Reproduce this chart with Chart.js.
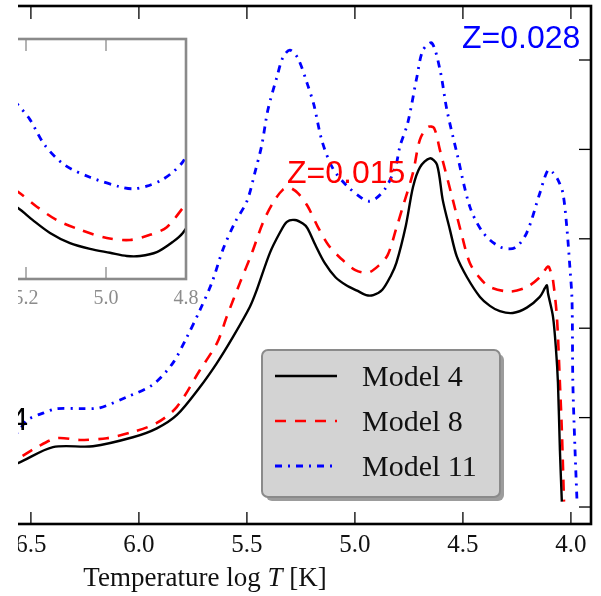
<!DOCTYPE html>
<html>
<head>
<meta charset="utf-8">
<script src="https://cdn.jsdelivr.net/npm/chart.js@4.4.1/dist/chart.umd.min.js"></script>
<style>
    body { margin: 0; background: #fff; }
    #frame { position: absolute; left: 18px; top: 0; width: 583px; height: 596px; overflow: hidden; }
    #mainChart { position: absolute; left: -218px; top: 0; }
    #insetChart { position: absolute; left: -30px; top: 30px; }
</style>
</head>
<body>
<div id="frame">
    <canvas id="mainChart" width="801" height="596"></canvas>
    <canvas id="insetChart" width="216" height="280"></canvas>
</div>
<script>
// log T grid and curve level for each model
const logT4 = [6.62, 6.56, 6.398, 6.213, 6.028, 5.917, 5.824, 5.718, 5.639, 5.565, 5.486, 5.454, 5.394, 5.347, 5.315, 5.278, 5.241, 5.22, 5.183, 5.14, 5.09, 5.04, 4.99, 4.948, 4.915, 4.873, 4.833, 4.808, 4.764, 4.731, 4.699, 4.653, 4.62, 4.593, 4.56, 4.528, 4.481, 4.421, 4.375, 4.329, 4.269, 4.204, 4.144, 4.12, 4.111, 4.106, 4.083, 4.069, 4.06, 4.051, 4.042];
const level4 = [1.45, 1.49, 1.67, 1.68, 1.78, 1.88, 2.03, 2.34, 2.61, 2.90, 3.24, 3.43, 3.84, 4.07, 4.19, 4.21, 4.17, 4.12, 3.93, 3.73, 3.57, 3.48, 3.42, 3.37, 3.37, 3.43, 3.59, 3.73, 4.15, 4.58, 4.80, 4.90, 4.83, 4.43, 4.10, 3.80, 3.57, 3.35, 3.25, 3.19, 3.17, 3.23, 3.35, 3.45, 3.48, 3.39, 3.13, 2.76, 2.39, 1.64, 1.06];

const logT8 = [6.62, 6.56, 6.472, 6.38, 6.273, 6.148, 6.028, 5.917, 5.824, 5.718, 5.639, 5.593, 5.532, 5.477, 5.426, 5.38, 5.333, 5.301, 5.264, 5.22, 5.173, 5.123, 5.065, 4.998, 4.94, 4.89, 4.848, 4.808, 4.778, 4.731, 4.699, 4.662, 4.634, 4.606, 4.546, 4.505, 4.468, 4.421, 4.375, 4.282, 4.204, 4.144, 4.106, 4.093, 4.083, 4.065, 4.051, 4.042, 4.032];
const level8 = [1.47, 1.54, 1.67, 1.77, 1.75, 1.77, 1.84, 1.94, 2.12, 2.53, 2.83, 3.13, 3.51, 3.84, 4.18, 4.40, 4.55, 4.57, 4.51, 4.37, 4.14, 3.93, 3.78, 3.65, 3.62, 3.70, 3.82, 4.12, 4.36, 4.74, 5.11, 5.25, 5.24, 4.99, 4.43, 4.04, 3.73, 3.56, 3.46, 3.41, 3.46, 3.57, 3.69, 3.63, 3.54, 3.13, 2.39, 1.86, 1.06];

const logT11 = [6.62, 6.56, 6.519, 6.444, 6.38, 6.259, 6.181, 6.056, 5.935, 5.843, 5.778, 5.718, 5.662, 5.611, 5.556, 5.5, 5.463, 5.431, 5.403, 5.361, 5.333, 5.301, 5.264, 5.22, 5.19, 5.153, 5.103, 5.04, 4.965, 4.933, 4.898, 4.86, 4.833, 4.808, 4.792, 4.755, 4.713, 4.685, 4.644, 4.606, 4.574, 4.528, 4.468, 4.407, 4.329, 4.259, 4.204, 4.144, 4.106, 4.083, 4.06, 4.037, 4.019, 4.005, 3.995, 3.991, 3.981, 3.972];
const level11 = [1.75, 1.84, 1.97, 2.05, 2.10, 2.10, 2.11, 2.23, 2.37, 2.61, 2.90, 3.20, 3.51, 3.88, 4.18, 4.42, 4.74, 5.05, 5.44, 5.81, 6.03, 6.11, 6.02, 5.73, 5.50, 5.10, 4.79, 4.60, 4.45, 4.42, 4.46, 4.56, 4.68, 4.84, 5.03, 5.30, 5.81, 6.11, 6.19, 5.89, 5.44, 4.96, 4.36, 4.07, 3.91, 3.90, 4.07, 4.51, 4.77, 4.74, 4.66, 4.51, 4.13, 3.69, 3.32, 2.39, 1.64, 1.08];

const modelNames = ['Model 4', 'Model 8', 'Model 11'];
const xTicks = [6.5, 6.0, 5.5, 5.0, 4.5, 4.0];
const yTicks = [1, 2, 3, 4, 5, 6];
const insetTicks = [5.2, 5.0, 4.8];

const SERIF = '"Liberation Serif", "Times New Roman", serif';
const SANS = '"Liberation Sans", Arial, sans-serif';

function points(xs, ys) {
    return xs.map((x, i) => ({ x: x, y: ys[i] }));
}

// same three curves for the main panel and the zoomed inset
function makeDatasets() {
    return [
        { label: modelNames[0], data: points(logT4, level4), borderColor: '#000000', borderWidth: 2.4, borderDash: [] },
        { label: modelNames[1], data: points(logT8, level8), borderColor: '#ff0000', borderWidth: 2.6, borderDash: [11, 9] },
        { label: modelNames[2], data: points(logT11, level11), borderColor: '#0000ff', borderWidth: 2.8, borderDash: [7, 6, 2, 6] }
    ].map(ds => Object.assign(ds, { pointRadius: 0, fill: false, tension: 0.3 }));
}

function line(ctx, x1, y1, x2, y2) {
    ctx.beginPath();
    ctx.moveTo(x1, y1);
    ctx.lineTo(x2, y2);
    ctx.stroke();
}

// frame with inward ticks, axis title, legend box and Z labels
const mainDecor = {
    id: 'mainDecor',
    afterDraw(chart) {
        const { ctx, chartArea: a, scales: { x, y } } = chart;
        ctx.save();
        ctx.strokeStyle = '#000';
        ctx.lineWidth = 1.3;
        xTicks.forEach(v => {
            const px = x.getPixelForValue(v);
            line(ctx, px, a.top, px, a.top + 13);
            line(ctx, px, a.bottom, px, a.bottom - 12);
        });
        yTicks.forEach(v => {
            const py = y.getPixelForValue(v);
            line(ctx, a.right, py, a.right - 12, py);
        });
        ctx.lineWidth = 2.6;
        ctx.strokeRect(a.left, a.top, a.right - a.left, a.bottom - a.top);

        // axis title with italic T
        const cx = (x.left + x.right) / 2;
        const parts = [['Temperature log ', 'normal'], ['T', 'italic'], [' [K]', 'normal']];
        let total = 0;
        parts.forEach(p => { ctx.font = p[1] + ' 27px ' + SERIF; total += ctx.measureText(p[0]).width; });
        let tx = cx - total / 2;
        ctx.fillStyle = '#111';
        ctx.textBaseline = 'alphabetic';
        ctx.textAlign = 'left';
        parts.forEach(p => {
            ctx.font = p[1] + ' 27px ' + SERIF;
            ctx.fillText(p[0], tx, 586);
            tx += ctx.measureText(p[0]).width;
        });

        // legend box with drop shadow
        const lx = 462, ly = 350, lw = 238, lh = 147;
        ctx.fillStyle = '#9c9c9c';
        ctx.beginPath();
        ctx.roundRect(lx + 4, ly + 4, lw, lh, 6);
        ctx.fill();
        ctx.fillStyle = '#d3d3d3';
        ctx.strokeStyle = '#8a8a8a';
        ctx.lineWidth = 2;
        ctx.beginPath();
        ctx.roundRect(lx, ly, lw, lh, 6);
        ctx.fill();
        ctx.stroke();

        chart.data.datasets.forEach((ds, i) => {
            const ry = 376 + i * 45;
            ctx.strokeStyle = ds.borderColor;
            ctx.lineWidth = ds.borderWidth;
            ctx.setLineDash(ds.borderDash);
            line(ctx, 475, ry, 537, ry);
            ctx.setLineDash([]);
            ctx.fillStyle = '#111';
            ctx.font = '30px ' + SERIF;
            ctx.fillText(ds.label, 562, ry + 10);
        });

        // metallicity labels
        ctx.font = '32px ' + SANS;
        ctx.fillStyle = '#0000ff';
        ctx.fillText('Z=0.028', 662, 48);
        ctx.fillStyle = '#ff0000';
        ctx.fillText('Z=0.015', 487, 183);
        ctx.fillStyle = '#000';
        ctx.textAlign = 'right';
        ctx.fillText('4', 228, 430);
        ctx.restore();
    }
};

const insetDecor = {
    id: 'insetDecor',
    beforeDatasetsDraw(chart) {
        const { ctx, chartArea: a } = chart;
        ctx.save();
        ctx.fillStyle = '#fff';
        ctx.fillRect(a.left, a.top, a.right - a.left, a.bottom - a.top);
        ctx.restore();
    },
    afterDatasetsDraw(chart) {
        const { ctx, chartArea: a, scales: { x } } = chart;
        ctx.save();
        ctx.strokeStyle = '#8a8a8a';
        ctx.lineWidth = 1.3;
        insetTicks.forEach(v => {
            const px = x.getPixelForValue(v);
            line(ctx, px, a.top, px, a.top + 12);
            line(ctx, px, a.bottom, px, a.bottom - 12);
        });
        ctx.lineWidth = 2.6;
        ctx.strokeRect(a.left, a.top, a.right - a.left, a.bottom - a.top);
        ctx.restore();
    }
};

document.addEventListener('DOMContentLoaded', function () {
    new Chart(document.getElementById('mainChart'), {
        type: 'line',
        data: { datasets: makeDatasets() },
        options: {
            responsive: false,
            animation: false,
            layout: { autoPadding: false, padding: { left: 19, right: 10, top: 6, bottom: 0 } },
            plugins: { legend: { display: false }, tooltip: { enabled: false } },
            scales: {
                x: {
                    type: 'linear',
                    reverse: true,
                    min: 3.907,
                    max: 7.481,
                    grid: { display: false },
                    border: { display: false },
                    afterBuildTicks: axis => { axis.ticks = xTicks.map(v => ({ value: v })); },
                    afterFit: axis => { axis.height = 72; },
                    ticks: {
                        padding: -2,
                        color: '#111',
                        font: { family: SERIF, size: 25 },
                        callback: v => v.toFixed(1)
                    }
                },
                y: { type: 'linear', display: false, min: 0.81, max: 6.604 }
            }
        },
        plugins: [mainDecor]
    });

    new Chart(document.getElementById('insetChart'), {
        type: 'line',
        data: { datasets: makeDatasets() },
        options: {
            responsive: false,
            animation: false,
            layout: { autoPadding: false, padding: { left: 10, right: 18, top: 9, bottom: 0 } },
            plugins: { legend: { display: false }, tooltip: { enabled: false } },
            scales: {
                x: {
                    type: 'linear',
                    reverse: true,
                    min: 4.8,
                    max: 5.27,
                    grid: { display: false },
                    border: { display: false },
                    afterBuildTicks: axis => { axis.ticks = insetTicks.map(v => ({ value: v })); },
                    afterFit: axis => { axis.height = 31; },
                    ticks: {
                        padding: 0,
                        color: '#8c8c8c',
                        font: { family: SERIF, size: 20 },
                        callback: v => v.toFixed(1)
                    }
                },
                y: { type: 'linear', display: false, min: 3.01, max: 6.76 }
            }
        },
        plugins: [insetDecor]
    });
});
</script>
</body>
</html>
